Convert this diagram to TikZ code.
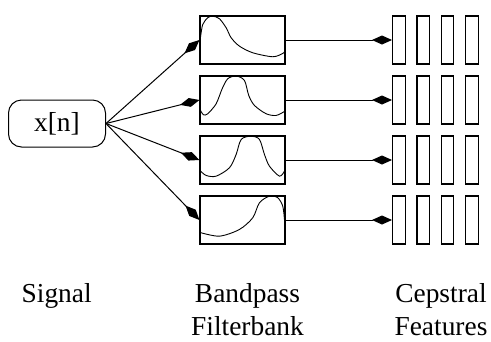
\documentclass[tikz,border=0pt]{standalone}
\usepackage{fontspec}
\setmainfont{Liberation Serif}
\usetikzlibrary{arrows.meta}

\begin{document}
\begin{tikzpicture}[x=1pt,y=-1pt,
  every node/.style={font=\fontsize{27.4}{33}\selectfont, inner sep=0pt},
  sigbox/.style={draw, line width=1pt, rounded corners=13pt, minimum width=97pt, minimum height=47pt},
  filterbox/.style={draw, line width=1.1pt, minimum width=85pt, minimum height=48pt},
  featbox/.style={draw, line width=1.1pt, minimum width=12.5pt, minimum height=48pt},
  link/.style={line width=1pt, -{Diamond[length=20pt,width=9pt]}},
  response/.style={line width=0.9pt, smooth, tension=0.5},
  caption/.style={anchor=base}
]
\useasboundingbox (0,0) rectangle (491,341);

% input signal
\node[sigbox] (sig) at (57,123.5) {x[n]};

% filterbank and feature columns
\foreach \i/\yc in {1/40,2/100,3/160,4/220}{
  \node[filterbox] (f\i) at (242.5,\yc) {};
  \foreach \j in {0,1,2,3}{
    \node[featbox, anchor=west] (c\i\j) at (392+24.4*\j,\yc) {};
  }
  \draw[link] (sig.east) -- (f\i.west);
  \draw[link] (f\i.east) -- (c\i0.west);
}

% frequency responses of the four bandpass filters
\begin{scope}[shift={(f1.north west)}]
  \draw[response] plot coordinates {(0.5,26) (1.3,20) (3.3,9) (8.3,2.3) (13.3,0.7) (20,3.3) (26.7,12.3) (31.7,22.3) (40,30.7) (53.3,37.3) (73.3,41.3) (83.3,38) (85,36.3)};
\end{scope}
\begin{scope}[shift={(f2.north west)}]
  \draw[response] plot coordinates {(0.5,34) (4,39.3) (8.3,38.3) (16.7,28.3) (22.7,13.3) (28.3,3.3) (36.7,0.6) (45,5) (49.3,20) (55,30) (66.7,38.3) (76.7,40) (85,36)};
\end{scope}
\begin{scope}[shift={(f3.north west)}]
  \draw[response] plot coordinates {(0.5,35) (6.7,40) (16.7,40.7) (30,32.3) (36.7,19) (41.7,4) (51.7,0.7) (60,4) (65,19) (70,30.7) (80,40.7) (85,35.7)};
\end{scope}
\begin{scope}[shift={(f4.north west)}]
  \draw[response] plot coordinates {(0.5,37) (20,40.7) (40,34) (53.3,22.3) (60,7.3) (70,0.7) (78.3,2.3) (83.3,10.7) (85,24)};
\end{scope}

% column captions
\node[caption] (lsig) at (56.7,302.5) {Signal};
\node[caption] (lbp1) at (247.5,302.5) {Bandpass};
\node[caption] (lbp2) at (247.5,335.5) {Filterbank};
\node[caption] (lcp1) at (441,302.5) {Cepstral};
\node[caption] (lcp2) at (441,335.5) {Features};
\end{tikzpicture}
\end{document}
